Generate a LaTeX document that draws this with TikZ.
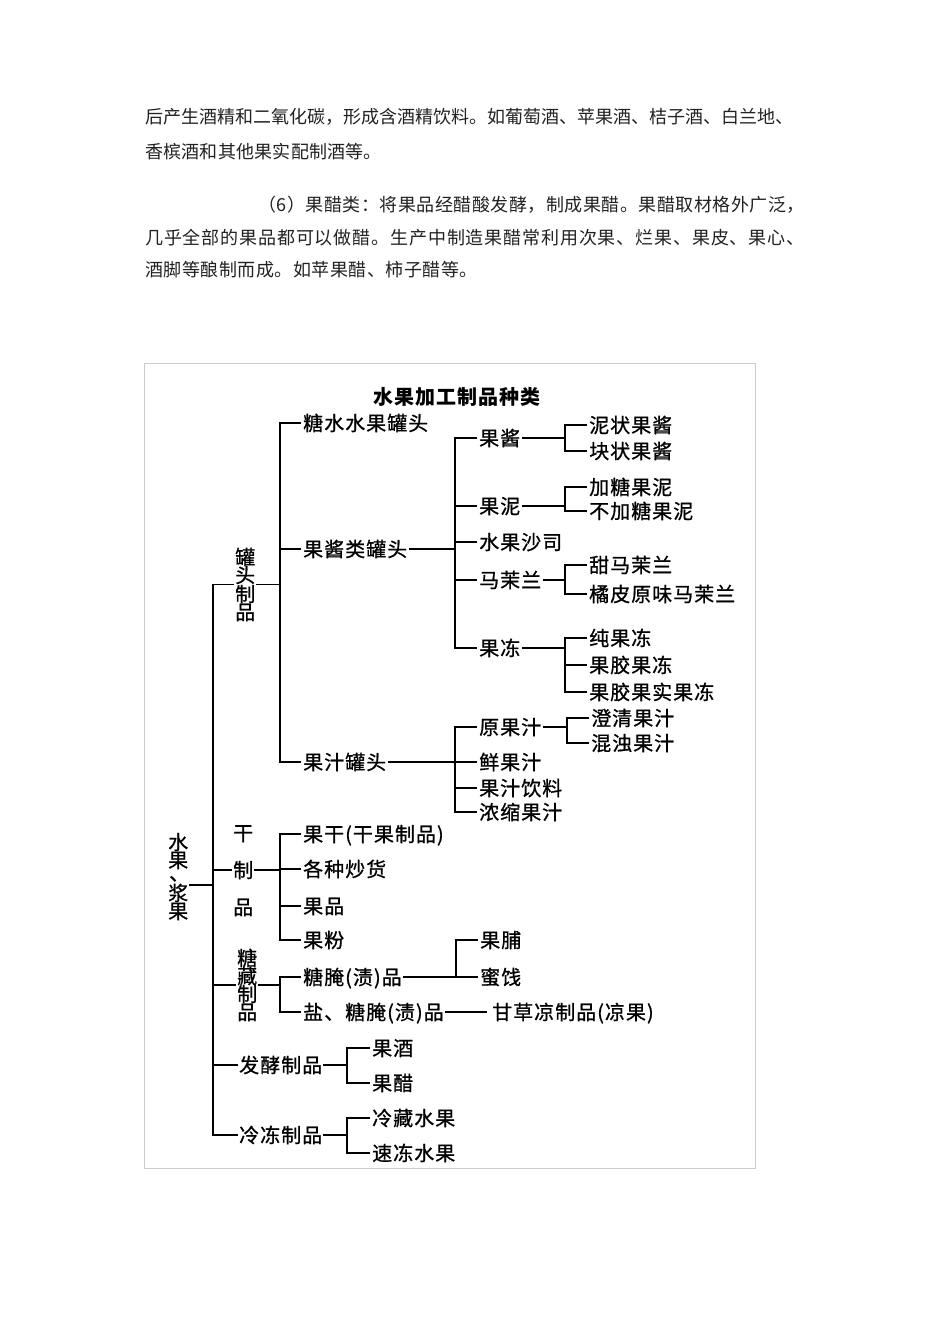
\documentclass[tikz,border=0pt]{standalone}
\usepackage{fontspec}
\usetikzlibrary{fit}
\newfontfamily\cjk{Noto Sans CJK SC}
\definecolor{bodycol}{HTML}{222222}
\definecolor{framecol}{HTML}{CCCCCC}
\tikzset{
  lbl/.style={font=\cjk\fontsize{20}{22}\selectfont\addfontfeatures{LetterSpace=5,FakeBold=0.8}, inner sep=0pt, anchor=west, text height=16pt, text depth=0.8pt},
  grp/.style={inner sep=0pt},
  body/.style={font=\cjk\fontsize{18}{20}\selectfont, inner sep=0pt, anchor=west, text height=14.4pt, text depth=0.7pt, text=bodycol},
  ttl/.style={font=\cjk\bfseries\fontsize{20}{22}\selectfont\addfontfeatures{LetterSpace=5}, inner sep=0pt},
  ln/.style={line width=1.4pt, draw=black, line cap=rect},
  kid/.style={ln, shorten >=2.5pt},
}
\begin{document}
\begin{tikzpicture}[x=1pt,y=-1pt]
\fill[white] (0,0) rectangle (950,1344);
\useasboundingbox (0,0) rectangle (950,1344);

% body text
\node[body] (p1) at (145,117) {后产生酒精和二氧化碳，形成含酒精饮料。如葡萄酒、苹果酒、桔子酒、白兰地、};
\node[body] (p2) at (145,152) {\addfontfeatures{LetterSpace=1.3}香槟酒和其他果实配制酒等。};
\node[body] (p3) at (258,205) {\addfontfeatures{LetterSpace=2.8}（6）果醋类：将果品经醋酸发酵，制成果醋。果醋取材格外广泛，};
\node[body] (p4) at (145,238) {\addfontfeatures{LetterSpace=4.8}几乎全部的果品都可以做醋。生产中制造果醋常利用次果、烂果、果皮、果心、};
\node[body] (p5) at (145,270) {\addfontfeatures{LetterSpace=2.8}酒脚等酿制而成。如苹果醋、柿子醋等。};

% frame and title
\draw[draw=framecol, line width=1pt] (144,363) rectangle (755,1168);
\node[ttl] (title) at (457,397) {水果加工制品种类};

% bracket x positions
\coordinate (V0) at (213,0);
\coordinate (V1) at (280,0);
\coordinate (V2a) at (455,0);
\coordinate (V3a) at (565,0);
\coordinate (V3e) at (567,0);
\coordinate (V2c) at (456,0);
\coordinate (V1d) at (347,0);

% root : 水果、浆果 (vertical)
\node[lbl] (r1) at (168,842) {水};
\node[lbl] (r2) at (168,860) {果};
\node[lbl, anchor=base west, text height=3pt, text depth=0pt] (r3) at (169,880.5) {、};
\node[lbl] (r4) at (168,893) {浆};
\node[lbl] (r5) at (168,911) {果};
\node[grp, fit=(r1)(r5)] (root) {};
\coordinate (rootj) at (190,885);

% level 1 (vertical labels)
\node[lbl] (gt1) at (235,557) {罐};
\node[lbl] (gt2) at (235,575) {头};
\node[lbl] (gt3) at (235,594) {制};
\node[lbl] (gt4) at (235,612) {品};
\node[grp, fit=(gt1)(gt4)] (gt) {};
\node[lbl] (gz1) at (233,833) {干};
\node[lbl] (gz2) at (233,870) {制};
\node[lbl] (gz3) at (233,907) {品};
\node[grp, fit=(gz1)(gz3)] (gz) {};
\node[lbl] (tc1) at (237,958) {糖};
\node[lbl] (tc2) at (237,976) {藏};
\node[lbl] (tc3) at (237,994) {制};
\node[lbl] (tc4) at (237,1012) {品};
\node[grp, fit=(tc1)(tc4)] (tc) {};
\node[lbl] (fj) at (239,1065) {发酵制品};
\node[lbl] (ld) at (239,1135) {冷冻制品};

% level 2 : cans
\node[lbl] (a1) at (303,423) {糖水水果罐头};
\node[lbl] (a2) at (303,549) {果酱类罐头};
\node[lbl] (a3) at (303,762) {果汁罐头};
% level 3 : jam cans
\node[lbl] (b1) at (479,438) {果酱};
\node[lbl] (b2) at (479,506) {果泥};
\node[lbl] (b3) at (479,542) {水果沙司};
\node[lbl] (b4) at (479,580) {马茉兰};
\node[lbl] (b5) at (479,648) {果冻};
% level 4
\node[lbl] (c1) at (589,425) {泥状果酱};
\node[lbl] (c2) at (589,451) {块状果酱};
\node[lbl] (c3) at (589,487) {加糖果泥};
\node[lbl] (c4) at (589,511) {不加糖果泥};
\node[lbl] (c5) at (589,565) {甜马茉兰};
\node[lbl] (c6) at (589,594) {橘皮原味马茉兰};
\node[lbl] (c7) at (589,638) {纯果冻};
\node[lbl] (c8) at (589,665) {果胶果冻};
\node[lbl] (c9) at (589,692) {果胶果实果冻};
% juice cans
\node[lbl] (d1) at (479,727) {原果汁};
\node[lbl] (d2) at (479,762) {鲜果汁};
\node[lbl] (d3) at (479,788) {果汁饮料};
\node[lbl] (d4) at (479,812) {浓缩果汁};
\node[lbl] (e1) at (591,718) {澄清果汁};
\node[lbl] (e2) at (591,743) {混浊果汁};
% dried
\node[lbl] (f1) at (303,834) {果干(干果制品)};
\node[lbl] (f2) at (303,869) {各种炒货};
\node[lbl] (f3) at (303,906) {果品};
\node[lbl] (f4) at (303,940) {果粉};
% sugared
\node[lbl] (g1) at (303,977) {糖腌(渍)品};
\node[lbl] (g2) at (303,1012) {盐、糖腌(渍)品};
\node[lbl] (h1) at (480,940) {果脯};
\node[lbl] (h2) at (480,977) {蜜饯};
\node[lbl] (h3) at (492,1012) {甘草凉制品(凉果)};
% fermented
\node[lbl] (i1) at (372,1048) {果酒};
\node[lbl] (i2) at (372,1083) {果醋};
% frozen
\node[lbl] (j1) at (372,1118) {冷藏水果};
\node[lbl] (j2) at (372,1153) {速冻水果};

% ---- connectors ----
\draw[ln] (rootj) -- (V0 |- rootj);
\draw[ln] (V0 |- gt.west) -- (V0 |- ld.west);
% level 1 joints
\foreach \n/\v in {gt/V1, gz/V1, tc/V1, fj/V1d, ld/V1d}{
  \draw[ln, shorten >=1.5pt] (V0 |- \n.west) -- (\n.west);
  \draw[ln, shorten <=1.5pt] (\n.east) -- (\v |- \n.east);
}
% cans
\draw[ln] (V1 |- a1.west) -- (V1 |- a3.west);
\foreach \n in {a1,a2,a3}{ \draw[kid] (V1 |- \n.west) -- (\n.west); }
\draw[ln, shorten <=2pt] (a2.east) -- (V2a |- a2.east);
\draw[ln, shorten <=2pt] (a3.east) -- (V2a |- a3.east);
% jam cans
\draw[ln] (V2a |- b1.west) -- (V2a |- b5.west);
\foreach \n in {b1,b2,b3,b4,b5}{ \draw[kid] (V2a |- \n.west) -- (\n.west); }
\foreach \n in {b1,b2,b4,b5}{ \draw[ln, shorten <=2pt] (\n.east) -- (V3a |- \n.east); }
\draw[ln] (V3a |- c1.west) -- (V3a |- c2.west);
\draw[ln] (V3a |- c3.west) -- (V3a |- c4.west);
\draw[ln] (V3a |- c5.west) -- (V3a |- c6.west);
\draw[ln] (V3a |- c7.west) -- (V3a |- c9.west);
\foreach \n in {c1,c2,c3,c4,c5,c6,c7,c8,c9}{ \draw[kid] (V3a |- \n.west) -- (\n.west); }
% juice cans
\draw[ln] (V2a |- d1.west) -- (V2a |- d4.west);
\foreach \n in {d1,d2,d3,d4}{ \draw[kid] (V2a |- \n.west) -- (\n.west); }
\draw[ln, shorten <=2pt] (d1.east) -- (V3e |- d1.east);
\draw[ln] (V3e |- e1.west) -- (V3e |- e2.west);
\foreach \n in {e1,e2}{ \draw[kid] (V3e |- \n.west) -- (\n.west); }
% dried
\draw[ln] (V1 |- f1.west) -- (V1 |- f4.west);
\foreach \n in {f1,f2,f3,f4}{ \draw[kid] (V1 |- \n.west) -- (\n.west); }
% sugared
\draw[ln] (V1 |- g1.west) -- (V1 |- g2.west);
\foreach \n in {g1,g2}{ \draw[kid] (V1 |- \n.west) -- (\n.west); }
\draw[ln, shorten <=2pt] (g1.east) -- (V2c |- g1.east);
\draw[ln] (V2c |- h1.west) -- (V2c |- h2.west);
\foreach \n in {h1,h2}{ \draw[kid] (V2c |- \n.west) -- (\n.west); }
\draw[ln, shorten <=2pt, shorten >=6pt] (g2.east) -- (h3.west);
% fermented
\draw[ln] (V1d |- i1.west) -- (V1d |- i2.west);
\foreach \n in {i1,i2}{ \draw[kid] (V1d |- \n.west) -- (\n.west); }
% frozen
\draw[ln] (V1d |- j1.west) -- (V1d |- j2.west);
\foreach \n in {j1,j2}{ \draw[kid] (V1d |- \n.west) -- (\n.west); }
\end{tikzpicture}
\end{document}
